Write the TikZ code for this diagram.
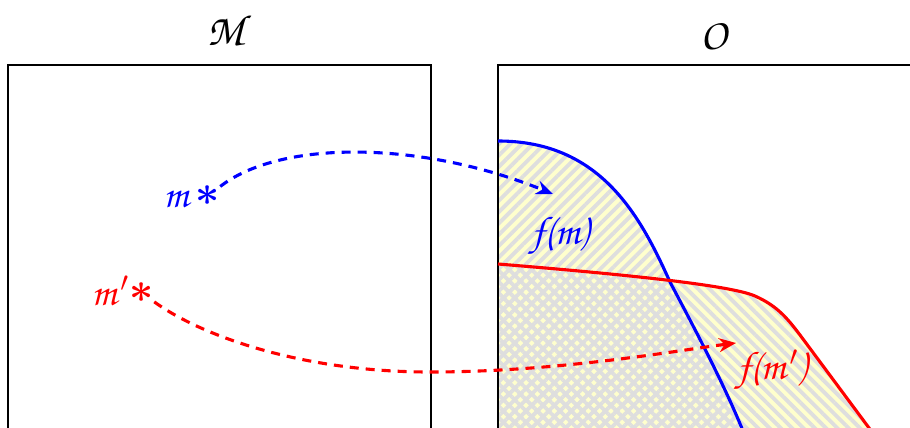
\RequirePackage{fix-cm}
\documentclass[tikz,border=0pt]{standalone}
\usetikzlibrary{arrows.meta,patterns.meta}
\definecolor{paleyellow}{RGB}{255,255,205}
\definecolor{stripegrey}{RGB}{222,222,222}
\newcommand{\zc}{\fontencoding{T1}\fontfamily{pzc}\fontseries{mb}\fontshape{it}\selectfont}
\newcommand{\pr}{\kern4pt$'$}
\tikzset{
  frame/.style={draw=black, line width=2.4pt},
  region/.style={fill=paleyellow},
  hatchA/.style={pattern={Lines[angle=45,distance=8pt,line width=3.8pt]}, pattern color=stripegrey},
  hatchB/.style={pattern={Lines[angle=-45,distance=8pt,line width=3.8pt]}, pattern color=stripegrey},
  curve/.style={line width=3.1pt},
  maparrow/.style={line width=3.1pt, dash pattern=on 9pt off 7pt, -{Stealth[length=17pt,width=14pt]}},
  lbl/.style={font=\fontsize{40}{44}\zc, inner sep=0pt},
  title/.style={font=\fontsize{44}{48}\zc, inner sep=0pt},
  starnode/.style={font=\fontsize{42}{44}\selectfont\boldmath, inner sep=0pt},
}
\begin{document}
\begin{tikzpicture}[x=1pt,y=-1pt]
\useasboundingbox (0,0) rectangle (910,428);
\clip (0,0) rectangle (910,428);
% frames
\draw[frame] (8,65) rectangle (431,450);
\draw[frame] (498,65) rectangle (940,450);
% regions
\path[region] (498,141) .. controls (600,141) and (640,215) .. (670,282)
   .. controls (690,320) and (725,385) .. (745,436) -- (498,436) -- cycle;
\path[region] (498,264) .. controls (620,274) and (730,285) .. (755,296)
   .. controls (775,305) and (785,315) .. (800,335) -- (875,436) -- (498,436) -- cycle;
\path[hatchA] (498,141) .. controls (600,141) and (640,215) .. (670,282)
   .. controls (690,320) and (725,385) .. (745,436) -- (498,436) -- cycle;
\path[hatchB] (498,264) .. controls (620,274) and (730,285) .. (755,296)
   .. controls (775,305) and (785,315) .. (800,335) -- (875,436) -- (498,436) -- cycle;
\draw[frame] (498,65) -- (498,450);
% boundary curves
\draw[curve, blue] (498,141) .. controls (600,141) and (640,215) .. (670,282)
   .. controls (690,320) and (725,385) .. (745,436);
\draw[curve, red] (498,264) .. controls (620,274) and (730,285) .. (755,296)
   .. controls (775,305) and (785,315) .. (800,335) -- (875,436);
% titles
\node[title] (tM) at (226,30) {M};
\node[title] (tO) at (714,36) {O};
% points
\node[lbl, text=blue] (m) at (176,199) {m};
\node[starnode, text=blue] (sm) at (208,196) {$\ast$};
\node[lbl, text=red] (mp) at (110,291) {m\pr};
\node[starnode, text=red] (smp) at (142,293) {$\ast$};
\node[lbl, text=blue] (fm) at (560,236) {f(m)};
\node[lbl, text=red] (fmp) at (772,371) {f(m\pr)};
% arrow targets
\coordinate (tb) at (553,194);
\coordinate (rlow) at (430,372);
\coordinate (tr) at (736,343);
\draw[maparrow, blue] (sm) .. controls (280,140) and (420,140) .. (tb);
\draw[maparrow, red] (smp) .. controls (200,335) and (300,372) .. (rlow)
   .. controls (560,372) and (680,350) .. (tr);
\end{tikzpicture}
\end{document}
